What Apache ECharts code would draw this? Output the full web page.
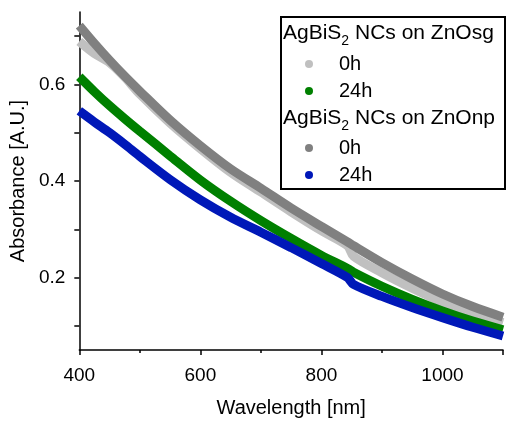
<!DOCTYPE html>
<html>
<head>
<meta charset="utf-8">
<script src="https://cdn.jsdelivr.net/npm/echarts@6/dist/echarts.min.js"></script>
<style>
html,body{margin:0;padding:0;background:#fff;}
#chart{width:506px;height:423px;}
</style>
</head>
<body>
<div id="chart"></div>
<script>
// Wavelength sample points (nm)
var wavelengths = [400, 425, 450, 475, 500, 550, 600, 650, 700, 750, 800, 843, 853, 900, 950, 1000, 1050, 1100];
// AgBiS2 NCs on ZnOsg
var sg0h  = [0.689, 0.664, 0.645, 0.615, 0.580, 0.520, 0.467, 0.418, 0.377, 0.336, 0.297, 0.266, 0.244, 0.210, 0.178, 0.149, 0.126, 0.107];
var sg24h = [0.616, 0.585, 0.556, 0.529, 0.503, 0.452, 0.402, 0.358, 0.318, 0.281, 0.246, 0.219, 0.211, 0.182, 0.155, 0.131, 0.110, 0.092];
// AgBiS2 NCs on ZnOnp
var np0h  = [0.722, 0.685, 0.650, 0.617, 0.586, 0.526, 0.473, 0.425, 0.385, 0.344, 0.306, 0.274, 0.266, 0.231, 0.197, 0.166, 0.140, 0.118];
var np24h = [0.545, 0.522, 0.500, 0.476, 0.451, 0.403, 0.361, 0.325, 0.294, 0.262, 0.229, 0.200, 0.186, 0.161, 0.138, 0.117, 0.097, 0.079];

var xTicks = [400, 600, 800, 1000];
var yTicks = [0.2, 0.4, 0.6];
var headers = ['AgBiS|2| NCs on ZnOsg', 'AgBiS|2| NCs on ZnOnp'];

function pairs(ys){ return wavelengths.map(function(x,i){ return [x, ys[i]]; }); }

var FONT = '"Liberation Sans", Arial, sans-serif';
var chart = echarts.init(document.getElementById('chart'));

function mkSeries(name, ys, color){
  return {
    name: name, type: 'line', data: pairs(ys), showSymbol: false,
    smooth: 0.3,
    lineStyle: {color: color, width: 9}, itemStyle: {color: color},
    silent: true, animation: false
  };
}

function headerText(h){
  var p = h.split('|');
  return '{n|' + p[0] + '}{s|' + p[1] + '}{n|' + p[2] + '}';
}
var headerRich = {
  n: {fontFamily: FONT, fontSize: 21, lineHeight: 24, verticalAlign: 'bottom'},
  s: {fontFamily: FONT, fontSize: 14, lineHeight: 24, verticalAlign: 'bottom', padding: [0,0,-4,0]}
};

chart.setOption({
  animation: false,
  grid: {left: 77, right: 2, top: 12, bottom: 66},
  xAxis: {
    type: 'value', min: 400, max: 1100, interval: 200,
    name: 'Wavelength [nm]', nameLocation: 'middle', nameGap: 48,
    nameTextStyle: {fontFamily: FONT, fontSize: 20, color: '#000'},
    axisLine: {show: true, onZero: false, lineStyle: {color: '#000', width: 1.5}},
    axisTick: {show: true, length: 5, lineStyle: {color: '#000', width: 1.5}},
    minorTick: {show: true, splitNumber: 2, length: 3, lineStyle: {color: '#000', width: 1.5}},
    axisLabel: {fontFamily: FONT, fontSize: 19, color: '#000', margin: 16,
      formatter: function(v){ return xTicks.indexOf(v) >= 0 ? String(v) : ''; }},
    splitLine: {show: false}
  },
  yAxis: {
    type: 'value', min: 0.05, max: 0.75,
    name: 'Absorbance [A.U.]', nameLocation: 'middle', nameGap: 44,
    nameTextStyle: {fontFamily: FONT, fontSize: 20, color: '#000'},
    axisLine: {show: true, onZero: false, lineStyle: {color: '#000', width: 1.5}},
    axisTick: {show: true, length: 5, lineStyle: {color: '#000', width: 1.5},
      customValues: [0.1, 0.2, 0.3, 0.4, 0.5, 0.6, 0.7]},
    minorTick: {show: false},
    axisLabel: {fontFamily: FONT, fontSize: 19, color: '#000', margin: 14,
      customValues: yTicks,
      formatter: function(v){ return v.toFixed(1); }},
    splitLine: {show: false}
  },
  legend: [
    {
      data: ['0h', '24h'], orient: 'vertical', left: 305, top: 54, padding: 0,
      icon: 'circle', itemWidth: 8, itemHeight: 8, itemGap: 7,
      textStyle: {fontFamily: FONT, fontSize: 20, color: '#000', lineHeight: 20, padding: [0,0,0,21]},
      selectedMode: false
    },
    {
      data: ['0h ', '24h '], orient: 'vertical', left: 305, top: 138, padding: 0,
      icon: 'circle', itemWidth: 8, itemHeight: 8, itemGap: 7,
      textStyle: {fontFamily: FONT, fontSize: 20, color: '#000', lineHeight: 20, padding: [0,0,0,21]},
      selectedMode: false
    }
  ],
  graphic: [
    {type: 'rect', shape: {x: 281, y: 17, width: 224, height: 172},
     style: {fill: 'none', stroke: '#000', lineWidth: 2}, z: 100},
    {type: 'text', left: 283, top: 23, z: 101,
     style: {text: headerText(headers[0]), fill: '#000', rich: headerRich}},
    {type: 'text', left: 283, top: 108, z: 101,
     style: {text: headerText(headers[1]), fill: '#000', rich: headerRich}}
  ],
  series: [
    mkSeries('0h', sg0h, '#c0c0c0'),
    mkSeries('24h', sg24h, '#008000'),
    mkSeries('0h ', np0h, '#808080'),
    mkSeries('24h ', np24h, '#0018b8')
  ]
});
</script>
</body>
</html>
